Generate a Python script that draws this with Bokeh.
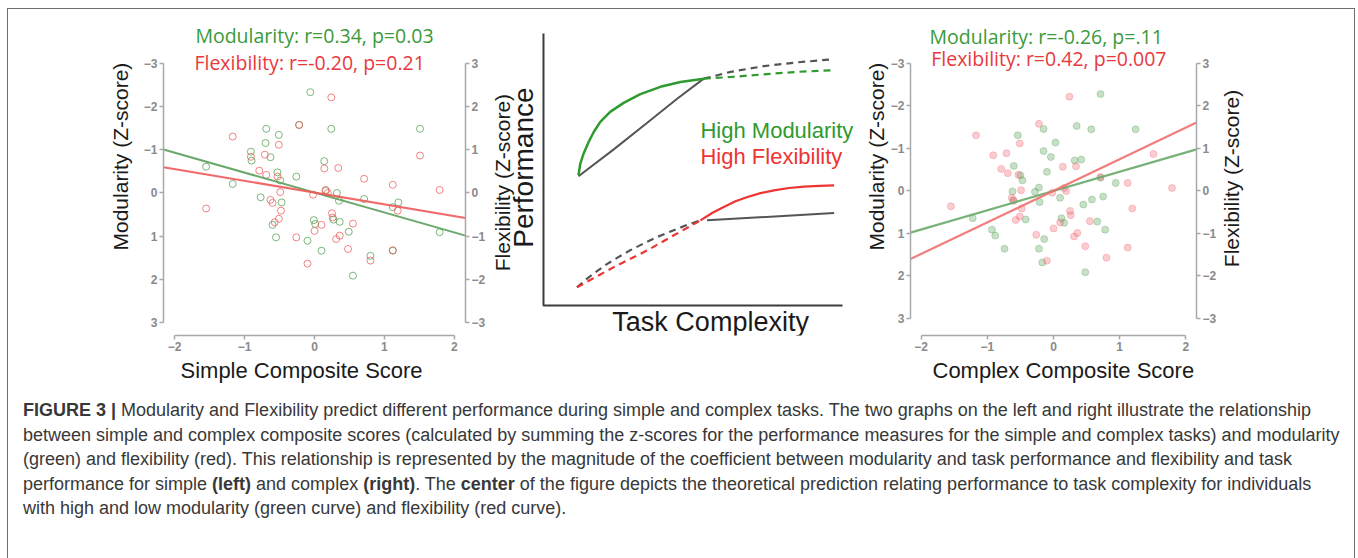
import math
from bokeh.plotting import figure
from bokeh.models import Range1d, LinearAxis, FixedTicker, Div, Title
from bokeh.layouts import row, column
from bokeh.embed import file_html
from bokeh.resources import INLINE
from bokeh.core.properties import value

# ---------------- data ----------------
# left panel: simple composite score vs modularity (green) / flexibility (red)
simple_mod_x = [-0.06, 0.24, -0.69, -0.51, -0.70, -0.91, -0.90, -0.63, 0.14, -1.55, -0.53, -0.49,
                -0.26, -1.17, -0.77, -0.47, 0.32, 0.35, 0.16, 0.71, 1.20, 1.12, 1.51, 1.79,
                -0.60, -0.55, -0.01, 0.01, 0.36, 0.49, -0.10, 0.10, 1.12, 0.80, 0.55, 0.27, -0.22]
simple_mod_y = [-2.34, -1.49, -1.49, -1.35, -1.16, -0.96, -0.75, -0.83, -0.74, -0.61, -0.48, -0.29,
                -0.38, -0.21, 0.10, 0.22, 0.00, 0.18, -0.05, 0.14, 0.22, 0.33, -1.49, 0.91,
                0.74, 1.03, 0.63, 0.72, 0.67, 0.90, 1.11, 1.34, 1.34, 1.46, 1.92, 0.62, -1.58]
flex_x = [0.24, -0.22, -1.17, -0.51, -0.91, -0.71, 0.34, 0.14, -0.79, -0.69, -0.53, 0.71, 1.12,
          1.51, 1.79, -0.49, -0.02, 0.16, 0.19, -0.63, -0.60, -1.55, -0.48, 1.19, 0.25, 0.26,
          -0.51, -0.57, 0.10, 0.55, 0.00, -0.26, 0.36, 0.31, 0.48, 1.12, 0.80, -0.10]
flex_y = [2.22, 1.58, 1.31, 1.12, 0.84, 0.89, 0.58, 0.57, 0.52, 0.42, 0.38, 0.33, 0.19,
          0.87, 0.07, 0.02, -0.04, 0.07, 0.00, -0.16, -0.23, -0.36, -0.41, -0.41, -0.47, -0.57,
          -0.60, -0.68, -0.74, -0.71, -0.88, -1.03, -0.99, -1.07, -1.30, -1.33, -1.57, -1.64]
# right panel: complex composite score vs modularity (green)
complex_mod_x = [0.71, 0.35, -0.15, 0.57, 1.24, -0.54, 0.03, -0.15, -0.04, 0.32, 0.42, -0.60,
                 -0.10, -0.50, -0.47, 0.71, 0.94, -0.22, -0.28, -0.62, -0.61, -0.21, 0.10, 0.75,
                 0.58, 0.45, -1.22, -0.42, 0.12, 0.16, 0.66, 0.78, -0.93, -0.88, -0.14, -0.74,
                 -0.22, -0.17, 0.48]
complex_mod_y = [-2.28, -1.53, -1.46, -1.45, -1.45, -1.31, -1.14, -0.94, -0.80, -0.72, -0.74, -0.59,
                 -0.45, -0.37, -0.25, -0.31, -0.19, -0.08, 0.02, 0.01, 0.22, 0.26, 0.16, 0.13,
                 0.20, 0.32, 0.64, 0.67, 0.64, 0.75, 0.72, 0.91, 0.91, 1.05, 1.13, 1.36,
                 1.36, 1.68, 1.91]
complex_flex_x = flex_x
complex_flex_y = flex_y

fit_x = [-2.16, 2.16]
simple_mod_fit = [-1.01, 0.99]
simple_flex_fit = [0.60, -0.58]
complex_mod_fit = [0.98, -0.98]
complex_flex_fit = [-1.60, 1.61]

simple_titles = ["Modularity: r=0.34, p=0.03", "Flexibility: r=-0.20, p=0.21"]
complex_titles = ["Modularity: r=-0.26, p=.11", "Flexibility: r=0.42, p=0.007"]
z_ticks = [-3, -2, -1, 0, 1, 2, 3]
x_ticks = [-2, -1, 0, 1, 2]

# centre panel: schematic curves (performance vs task complexity)
hm_x = [1.17, 1.23, 1.34, 1.51, 1.68, 1.90, 2.23, 2.68, 3.24, 3.91, 4.58, 5.36]
hm_y = [4.79, 5.21, 5.58, 6.01, 6.38, 6.75, 7.12, 7.45, 7.77, 8.04, 8.22, 8.34]
lm_x = [1.17, 2.35, 3.46, 4.47, 5.36]
lm_y = [4.75, 5.74, 6.71, 7.60, 8.34]
lm_dash_x = [5.36, 6.26, 7.37, 8.49, 9.55]
lm_dash_y = [8.34, 8.59, 8.80, 8.94, 9.04]
hm_dash_x = [5.36, 6.26, 7.37, 8.49, 9.72]
hm_dash_y = [8.34, 8.40, 8.50, 8.59, 8.65]
hf_dash_x = [1.12, 2.35, 3.46, 4.36, 5.25]
hf_dash_y = [0.67, 1.41, 2.02, 2.58, 3.13]
lf_dash_x = [1.12, 1.45, 1.79, 2.12, 2.46, 2.85, 3.24, 3.74, 4.25, 4.75, 5.25]
lf_dash_y = [0.67, 0.98, 1.26, 1.52, 1.75, 2.00, 2.22, 2.49, 2.72, 2.94, 3.13]
hf_x = [5.25, 5.64, 6.03, 6.42, 6.82, 7.26, 7.71, 8.21, 8.72, 9.22, 9.72]
hf_y = [3.13, 3.40, 3.62, 3.83, 3.99, 4.13, 4.23, 4.32, 4.37, 4.40, 4.42]
lf_x = [5.47, 9.72]
lf_y = [3.13, 3.40]
axis_x = [0, 0, 10]
axis_y = [10, 0, 0]

GREEN = "#3b9a3b"
RED = "#e8383d"
AX = "#a8a8a8"
SANS = "Liberation Sans"
INK = "#1a1a1a"

ROW_H = 385
MB_TOP = 6
MB_BOT = 59


def style_axis(ax, ticks, bounds):
    ax.ticker = FixedTicker(ticks=ticks)
    ax.bounds = bounds
    ax.axis_line_color = AX
    ax.axis_line_width = 1.5
    ax.major_tick_line_color = AX
    ax.major_tick_line_width = 1.5
    ax.major_tick_out = 4
    ax.major_tick_in = 0
    ax.minor_tick_line_color = None
    ax.major_label_text_font = SANS
    ax.major_label_text_font_size = "12px"
    ax.major_label_text_font_style = "bold"
    ax.major_label_text_color = "#8a8a8a"
    ax.major_label_standoff = 2


def bare(p):
    p.outline_line_color = None
    p.grid.visible = False
    p.background_fill_color = "white"
    p.border_fill_color = "white"


def scatter_panel(width, mbl, mbr, ybot, ytop, mod_x, mod_y, fx, fy, mod_fit, flex_fit,
                  titles, title_x, title_y, xlabel, xl_offset, xl_standoff, yl_standoff,
                  filled):
    p = figure(width=width, height=ROW_H, x_range=Range1d(-2.16, 2.16),
               y_range=Range1d(ybot, ytop), output_backend="svg", toolbar_location=None,
               min_border_left=mbl, min_border_right=mbr, min_border_top=MB_TOP,
               min_border_bottom=MB_BOT)
    p.extra_y_ranges = {"flex": Range1d(-ybot, -ytop)}
    bare(p)
    style_axis(p.xaxis[0], x_ticks, (-2, 2))
    style_axis(p.yaxis[0], z_ticks, (-3, 3))
    rax = LinearAxis(y_range_name="flex")
    style_axis(rax, z_ticks, (-3, 3))
    p.add_layout(rax, "right")
    p.add_layout(Title(text=xlabel, align="left", offset=xl_offset, vertical_align="top",
                       standoff=xl_standoff, text_font=SANS, text_font_size="22px",
                       text_font_style="normal", text_color=INK), "below")
    p.add_layout(Title(text="Modularity (Z-score)", align="left", offset=85,
                       standoff=yl_standoff, text_font=SANS, text_font_size="21px",
                       text_font_style="normal", text_color=INK), "left")

    if filled:
        p.scatter(mod_x, mod_y, size=7, fill_color="#5fa65f", fill_alpha=0.35,
                  line_color="#5fa65f", line_alpha=0.35)
        p.scatter(fx, fy, size=7, y_range_name="flex", fill_color="#f0707a", fill_alpha=0.35,
                  line_color="#f0707a", line_alpha=0.35)
        p.line(fit_x, mod_fit, line_color="#6aaa6a", line_width=2.2, line_alpha=0.9)
        p.line(fit_x, flex_fit, y_range_name="flex", line_color="#f07070", line_width=2.2,
               line_alpha=0.9)
    else:
        p.scatter(mod_x, mod_y, size=7, fill_color=None, line_color="#4f9f4f",
                  line_alpha=0.75, line_width=1)
        p.scatter(fx, fy, size=7, y_range_name="flex", fill_color=None, line_color="#f05a5a",
                  line_alpha=0.75, line_width=1)
        p.line(fit_x, mod_fit, line_color="#5a9e5a", line_width=2, line_alpha=0.9)
        p.line(fit_x, flex_fit, y_range_name="flex", line_color="#f05858", line_width=2,
               line_alpha=0.9)

    p.text(x=title_x[:1], y=title_y[:1], text=titles[:1], text_color=GREEN,
           text_font=value("Open Sans"), text_font_size="19.5px", text_align="center",
           text_baseline="middle")
    p.text(x=title_x[1:], y=title_y[1:], text=titles[1:], text_color=RED,
           text_font=value("Open Sans"), text_font_size="19.5px", text_align="center",
           text_baseline="middle")
    return p


left = scatter_panel(480, 155, 20, 3.309, -4.121, simple_mod_x, simple_mod_y, flex_x, flex_y,
                     simple_mod_fit, simple_flex_fit, simple_titles, [0.0, -0.07],
                     [-3.657, -3.037], "Simple Composite Score", 17, 9, 17, False)
right = scatter_panel(357, 48, 18, 3.40, -4.129, complex_mod_x, complex_mod_y, complex_flex_x,
                      complex_flex_y, complex_mod_fit, complex_flex_fit, complex_titles,
                      [-0.11, -0.07], [-3.635, -3.118], "Complex Composite Score", 22, 8, 0,
                      True)

# centre schematic (its frame also hosts the left panel's right-hand axis title)
c = figure(width=374, height=ROW_H, x_range=Range1d(-1.839, 10.669),
           y_range=Range1d(-1.103, 10.662), output_backend="svg", toolbar_location=None,
           x_axis_location=None, y_axis_location=None, min_border_left=0,
           min_border_right=0, min_border_top=MB_TOP, min_border_bottom=MB_BOT)
bare(c)
c.line(axis_x, axis_y, line_color="#3c3c3c", line_width=2)

DASH = "7 5"
c.line(lm_x, lm_y, line_color="#555555", line_width=2)
c.line(lm_dash_x, lm_dash_y, line_color="#555555", line_width=2.2, line_dash=DASH)
c.line(hm_dash_x, hm_dash_y, line_color="#2f9a2f", line_width=2.2, line_dash=DASH)
c.line(hm_x, hm_y, line_color="#2f9a2f", line_width=2.5)
c.line(lf_dash_x, lf_dash_y, line_color="#555555", line_width=2.2, line_dash=DASH)
c.line(hf_dash_x, hf_dash_y, line_color="#ee3333", line_width=2.2, line_dash=DASH)
c.line(lf_x, lf_y, line_color="#555555", line_width=2)
c.line(hf_x, hf_y, line_color="#ee3333", line_width=2.2)
c.text(x=[5.25], y=[6.44], text=["High Modularity"], text_color="#2f9a2f",
       text_font=value(SANS), text_font_size="22px", text_baseline="middle")
c.text(x=[5.25], y=[5.46], text=["High Flexibility"], text_color="#ee3333",
       text_font=value(SANS), text_font_size="22px", text_baseline="middle")
c.text(x=[-0.669], y=[5.07], text=["Performance"], angle=math.pi / 2, text_color=INK,
       text_font=value(SANS), text_font_size="28px", text_align="center",
       text_baseline="middle")
c.text(x=[5.59], y=[-0.59], text=["Task Complexity"], text_color=INK,
       text_font=value(SANS), text_font_size="27px", text_align="center",
       text_baseline="middle")
c.text(x=[-1.371], y=[4.52], text=["Flexibility (Z-score)"], angle=math.pi / 2,
       text_color=INK, text_font=value(SANS), text_font_size="21px", text_align="center",
       text_baseline="middle")

# strip at the far right holding the right panel's right-hand axis title
rl = figure(width=135, height=ROW_H, x_range=Range1d(0, 135), y_range=Range1d(0, 320),
            output_backend="svg", toolbar_location=None, x_axis_location=None,
            y_axis_location=None, min_border_left=0, min_border_right=0,
            min_border_top=MB_TOP, min_border_bottom=MB_BOT)
bare(rl)
rl.text(x=[12], y=[157], text=["Flexibility (Z-score)"], angle=math.pi / 2, text_color=INK,
        text_font=value(SANS), text_font_size="21px", text_align="center",
        text_baseline="middle")

caption_html = (
    '<div style="font-family:\'Liberation Sans\',Arial,sans-serif;font-size:18px;'
    'line-height:24.6px;color:#383838;white-space:nowrap;padding:4px 0 0 15px;">'
    '<b>FIGURE 3 |</b> Modularity and Flexibility predict different performance during simple and '
    'complex tasks. The two graphs on the left and right illustrate the relationship<br>'
    'between simple and complex composite scores (calculated by summing the z-scores for the '
    'performance measures for the simple and complex tasks) and modularity<br>'
    '(green) and flexibility (red). This relationship is represented by the magnitude of the '
    'coefficient between modularity and task performance and flexibility and task<br>'
    'performance for simple <b>(left)</b> and complex <b>(right)</b>. The <b>center</b> of the '
    'figure depicts the theoretical prediction relating performance to task complexity for '
    'individuals<br>'
    'with high and low modularity (green curve) and flexibility (red curve).</div>'
)
caption = Div(text=caption_html, width=1346, height=164, margin=(0, 0, 0, 0))

page = column(row(left, c, right, rl), caption, margin=(9, 0, 0, 8),
              styles={"outline": "1px solid #6e6e6e", "background": "white"})

open("out.html", "w").write(file_html(page, INLINE))
